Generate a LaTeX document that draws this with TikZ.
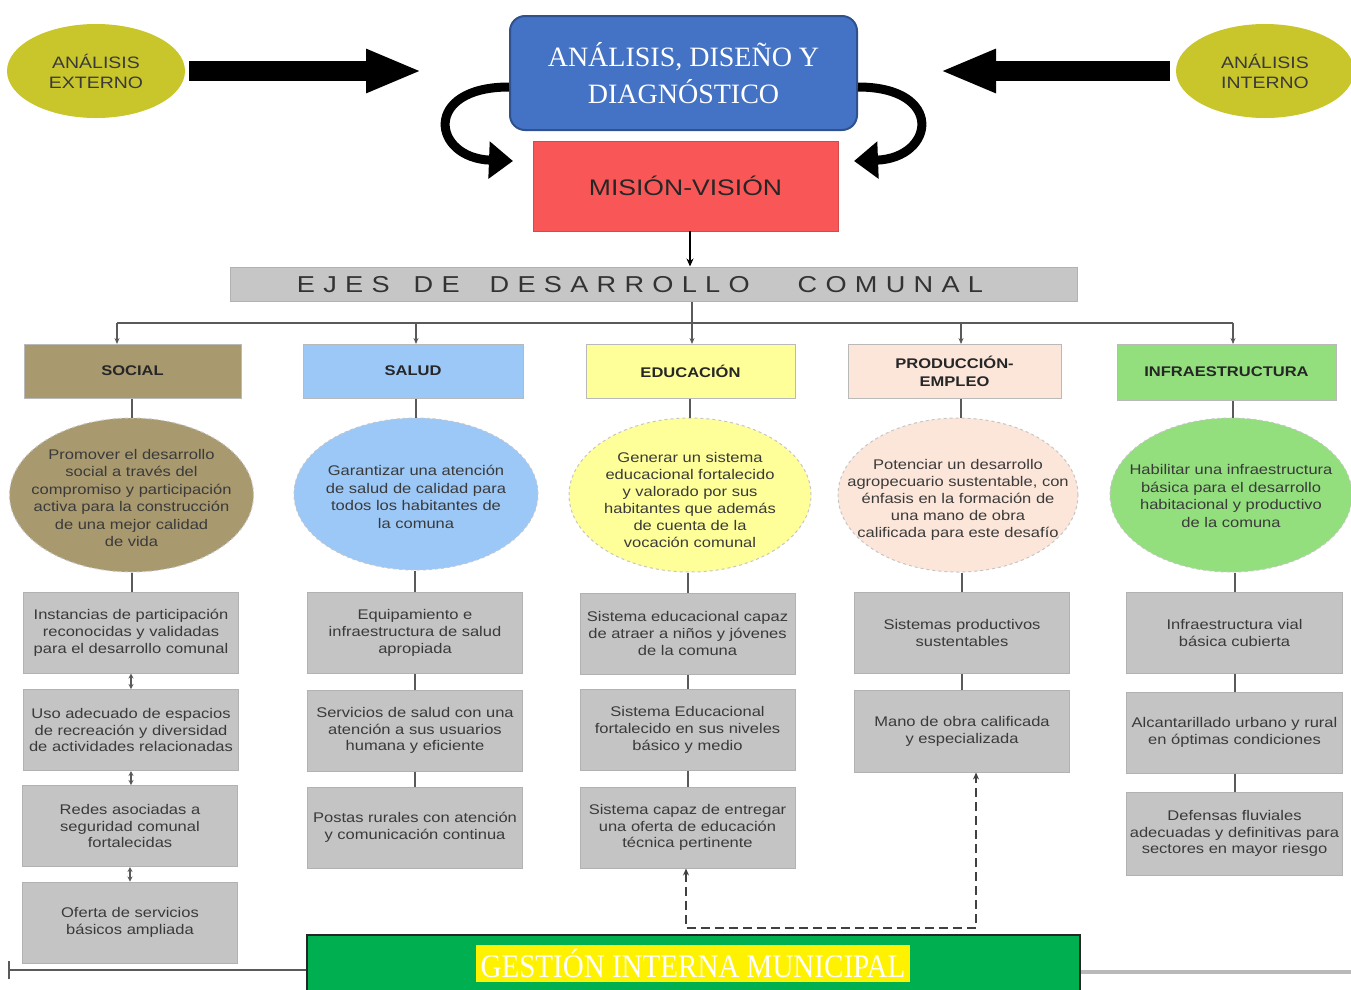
\documentclass[tikz,border=0pt]{standalone}
\usepackage{fontspec}
\setmainfont{Liberation Sans}[FakeStretch=1.18]
\newfontfamily\titlefont{Liberation Serif}
\newfontfamily\bandfont[FakeStretch=0.88]{Liberation Serif}
\newfontfamily\ejesfont[FakeStretch=1.18,LetterSpace=36]{Liberation Sans}
\usetikzlibrary{arrows.meta,shapes.geometric,calc}

\definecolor{olive}{HTML}{C9C62B}
\definecolor{diagblue}{HTML}{4472C4}
\definecolor{diagedge}{HTML}{2F528F}
\definecolor{misred}{HTML}{F95757}
\definecolor{bargray}{HTML}{C6C6C6}
\definecolor{soctan}{HTML}{A8996F}
\definecolor{salblue}{HTML}{9CC8F7}
\definecolor{eduyel}{HTML}{FFFF99}
\definecolor{prodpink}{HTML}{FCE6DA}
\definecolor{infgreen}{HTML}{93DF7E}
\definecolor{boxgray}{HTML}{C4C4C4}
\definecolor{boxedge}{HTML}{B2B2B2}
\definecolor{txtgray}{HTML}{3A3A3A}
\definecolor{linegray}{HTML}{5A5A5A}
\definecolor{bandgreen}{HTML}{00B050}

\begin{document}
\begin{tikzpicture}[x=1pt,y=-1pt,
  outer/.style={ellipse, fill=olive, draw=none, minimum width=178pt, minimum height=94pt,
    inner sep=0pt, align=center, text=txtgray, font=\fontsize{16.5}{20}\selectfont},
  bigarrow/.style={line width=20pt, -{Triangle[length=56pt,width=40pt]}},
  turnarrow/.style={line width=9pt, -{Triangle[length=24pt,width=36pt]}},
  header/.style={rectangle, draw=gray!55, line width=1pt, inner sep=0pt, align=center,
    minimum height=54pt, text=black!85, font=\bfseries\fontsize{14}{18}\selectfont},
  goal/.style={ellipse, draw=gray!45, dashed, line width=1pt, inner sep=0pt,
    minimum height=154pt},
  goaltext/.style={inner sep=0pt, align=center, text=txtgray, font=\fontsize{14}{17.5}\selectfont},
  gbox/.style={rectangle, fill=boxgray, draw=boxedge, line width=1pt, inner sep=0pt,
    align=center, minimum width=215pt, minimum height=81pt, text=txtgray,
    font=\fontsize{14}{16.8}\selectfont},
  conn/.style={draw=linegray, line width=2pt},
  drop/.style={draw=linegray, line width=1.6pt, -{Stealth[length=6pt,width=5pt]}},
  twoway/.style={draw=linegray, line width=1.4pt, {Stealth[length=5pt,width=5pt]}-{Stealth[length=5pt,width=5pt]}},
]
\useasboundingbox (0,0) rectangle (1351,989);

% ---- top: analysis and diagnosis ----
\node[outer] (ext) at (96,71) {ANÁLISIS\\EXTERNO};
\node[outer] (int) at (1265,71) {ANÁLISIS\\INTERNO};

\node[rectangle, rounded corners=15pt, fill=diagblue, draw=diagedge, line width=2pt,
  minimum width=347pt, minimum height=114pt, inner sep=0pt, align=center, text=white,
  font=\titlefont\fontsize{28}{37}\selectfont] (diag) at (683.5,73) {ANÁLISIS, DISEÑO Y\\DIAGNÓSTICO};

\node[rectangle, fill=misred, draw=misred!85!black, line width=0.8pt, minimum width=305pt,
  minimum height=90pt, inner sep=0pt, text=black!85,
  font=\fontsize{22.5}{26}\selectfont] (mis) at (685.5,186) {MISIÓN-VISIÓN};

\coordinate (lhead) at (422,71);
\coordinate (rhead) at (940,71);
\draw[bigarrow] ([xshift=4pt]ext.east) -- (lhead);
\draw[bigarrow] ([xshift=-6pt]int.west) -- (rhead);

\coordinate (ltip) at (513,161);
\coordinate (rtip) at (854,161);
\draw[turnarrow] ([yshift=-14pt]diag.west) .. controls (422,87) and (432,158) .. (ltip);
\draw[turnarrow] ([yshift=-14pt]diag.east) .. controls (945,87) and (935,158) .. (rtip);

% ---- axis bar ----
\node[rectangle, fill=bargray, draw=gray!60, line width=1pt, minimum width=847pt,
  minimum height=34pt, inner sep=0pt] (ejes) at (653.5,284) {};
\node[text=black!80, inner sep=0pt, font=\ejesfont\fontsize{23}{26}\selectfont] (ejestxt) at (640,285)
  {EJES\hspace{24pt}DE\hspace{30pt}DESARROLLO\hspace{48pt}COMUNAL};

\draw[conn, -{Stealth[length=8pt,width=7pt]}, draw=black, line width=2.2pt]
  ([xshift=4.5pt]mis.south) -- ([xshift=4.5pt]mis.south |- ejes.north);

% ---- headers ----
\node[header, fill=soctan, minimum width=217pt] (hsoc) at (132.5,371) {SOCIAL};
\node[header, fill=salblue, minimum width=220pt] (hsal) at (413,371) {SALUD};
\node[header, fill=eduyel, minimum width=209pt] (hedu) at (690.5,371) {EDUCACIÓN};
\node[header, fill=prodpink, minimum width=213pt] (hpro) at (954.5,371) {PRODUCCIÓN-\\EMPLEO};
\node[header, fill=infgreen, minimum width=219pt, minimum height=56pt] (hinf) at (1226.5,372) {INFRAESTRUCTURA};

% distribution line with drops to every axis
\coordinate (bus) at (0,323);
\coordinate (dsoc) at (117,344);
\coordinate (dsal) at (416,344);
\coordinate (dedu) at (692,344);
\coordinate (dpro) at (961,344);
\coordinate (dinf) at (1233,344);
\draw[conn, line width=1.6pt] (dedu |- ejes.south) -- (dedu |- bus);
\draw[conn, line width=1.6pt] (dsoc |- bus) -- (dinf |- bus);
\foreach \d in {dsoc,dsal,dedu,dpro,dinf} \draw[drop] (\d |- bus) -- (\d);

% ---- objectives ----
\node[goal, fill=soctan, minimum width=244pt] (gsoc) at (131.5,495) {};
\node[goal, fill=salblue, minimum width=244pt, minimum height=152pt] (gsal) at (416,494) {};
\node[goal, fill=eduyel, minimum width=242pt] (gedu) at (690,495) {};
\node[goal, fill=prodpink, minimum width=240pt] (gpro) at (958,495) {};
\node[goal, fill=infgreen, minimum width=242pt] (ginf) at (1231,495) {};

\node[goaltext] (tsoc) at (131.5,498)
  {Promover el desarrollo\\social a través del\\compromiso y participación\\activa para la construcción\\de una mejor calidad\\de vida};
\node[goaltext] (tsal) at (416,497)
  {Garantizar una atención\\de salud de calidad para\\todos los habitantes de\\la comuna};
\node[goaltext, font=\fontsize{14}{17}\selectfont] (tedu) at (690,500)
  {Generar un sistema\\educacional fortalecido\\y valorado por sus\\habitantes que además\\de cuenta de la\\vocación comunal};
\node[goaltext, font=\fontsize{14}{17}\selectfont] (tpro) at (958,500)
  {Potenciar un desarrollo\\agropecuario sustentable, con\\énfasis en la formación de\\una mano de obra\\calificada para este desafío};
\node[goaltext] (tinf) at (1231,496)
  {Habilitar una infraestructura\\básica para el desarrollo\\habitacional y productivo\\de la comuna};

% ---- results ----
\node[gbox] (s1) at (131,632.5) {Instancias de participación\\reconocidas y validadas\\para el desarrollo comunal};
\node[gbox] (s2) at (131,730) {Uso adecuado de espacios\\de recreación y diversidad\\de actividades relacionadas};
\node[gbox] (s3) at (130,826) {Redes asociadas a\\seguridad comunal\\fortalecidas};
\node[gbox] (s4) at (130,922.5) {Oferta de servicios\\básicos ampliada};

\node[gbox] (h1) at (415,633) {Equipamiento e\\infraestructura de salud\\apropiada};
\node[gbox] (h2) at (415,730.5) {Servicios de salud con una\\atención a sus usuarios\\humana y eficiente};
\node[gbox] (h3) at (415,827.5) {Postas rurales con atención\\y comunicación continua};

\node[gbox] (e1) at (687.5,633.5) {Sistema educacional capaz\\de atraer a niños y jóvenes\\de la comuna};
\node[gbox] (e2) at (687.5,730) {Sistema Educacional\\fortalecido en sus niveles\\básico y medio};
\node[gbox] (e3) at (687.5,827.5) {Sistema capaz de entregar\\una oferta de educación\\técnica pertinente};

\node[gbox] (p1) at (962,633) {Sistemas productivos\\sustentables};
\node[gbox, minimum height=82pt] (p2) at (962,731) {Mano de obra calificada\\y especializada};

\node[gbox, minimum width=216pt] (i1) at (1234.5,633) {Infraestructura vial\\básica cubierta};
\node[gbox, minimum width=216pt] (i2) at (1234.5,732.5) {Alcantarillado urbano y rural\\en óptimas condiciones};
\node[gbox, minimum width=216pt, minimum height=83pt] (i3) at (1234.5,833.5) {Defensas fluviales\\adecuadas y definitivas para\\sectores en mayor riesgo};

% ---- vertical links ----
\draw[conn] (gsoc.north |- hsoc.south) -- (gsoc.north);
\draw[conn] (gsal.north |- hsal.south) -- (gsal.north);
\draw[conn] (gedu.north |- hedu.south) -- (gedu.north);
\draw[conn] (dpro |- hpro.south) -- (dpro |- gpro.north);
\draw[conn] (dinf |- hinf.south) -- (dinf |- ginf.north);

\draw[conn] (gsoc.south) -- (gsoc.south |- s1.north);
\draw[conn] (h1.north |- gsal.south) -- (h1.north);
\draw[conn] (e1.north |- gedu.south) -- (e1.north);
\draw[conn] (p1.north |- gpro.south) -- (p1.north);
\draw[conn] (i1.north |- ginf.south) -- (i1.north);

\draw[twoway] (s1.south) -- (s1.south |- s2.north);
\draw[twoway] (s2.south) -- (s2.south |- s3.north);
\draw[twoway] (s3.south) -- (s3.south |- s4.north);

\draw[conn] (h1) -- (h2);
\draw[conn] (h2) -- (h3);
\draw[conn] (e1) -- (e2);
\draw[conn] (e2) -- (e3);
\draw[conn] (p1) -- (p2);
\draw[conn] (i1) -- (i2);
\draw[conn] (i2) -- (i3);

% dashed link between technical education and skilled labour
\coordinate (dl) at (686,928);
\coordinate (dr) at (976,928);
\draw[draw=black!75, line width=1.5pt, dashed, dash pattern=on 9pt off 5pt,
  {Stealth[length=7pt,width=6pt]}-{Stealth[length=7pt,width=6pt]}]
  (dl |- e3.south) -- (dl) -- (dr) -- (dr |- p2.south);

% ---- municipal management band ----
\node[rectangle, fill=bandgreen, draw=black!85, line width=2pt, minimum width=773pt,
  minimum height=62pt, inner sep=0pt] (gim) at (693.5,966) {};
\node[fill=yellow, text=white, inner sep=0pt, minimum width=434pt, minimum height=37pt,
  font=\bandfont\fontsize{33}{36}\selectfont] (gimtxt) at (693,963.5) {GESTIÓN INTERNA MUNICIPAL};

\coordinate (lend) at (8,970);
\coordinate (rend) at (1351,972);
\draw[draw=linegray, line width=2pt, {Bar[width=18pt]}-] (lend) -- (lend -| gim.west);
\draw[draw=gray!55, line width=4pt] (rend -| gim.east) -- (rend);
\end{tikzpicture}
\end{document}
